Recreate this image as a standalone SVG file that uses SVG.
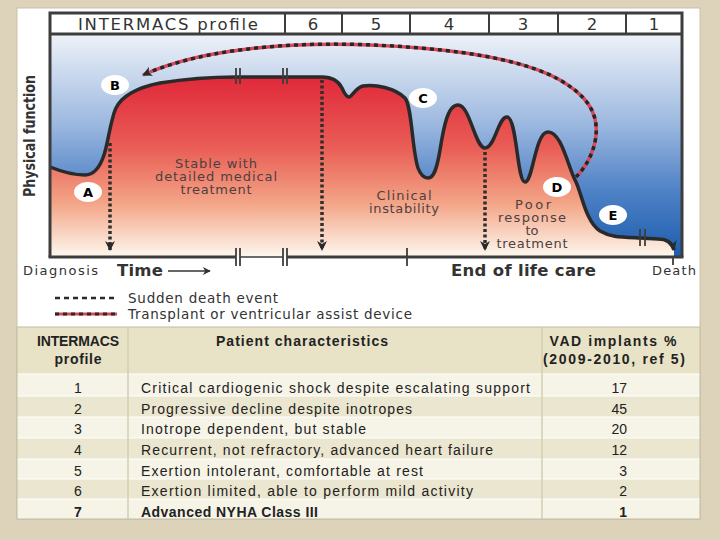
<svg xmlns="http://www.w3.org/2000/svg" width="720" height="540" viewBox="0 0 720 540">
<defs>
<linearGradient id="blueBg" x1="0" y1="34" x2="0" y2="257" gradientUnits="userSpaceOnUse">
<stop offset="0" stop-color="#eef2f8"/>
<stop offset="0.4" stop-color="#9db9e0"/>
<stop offset="0.7" stop-color="#4f82c6"/>
<stop offset="1" stop-color="#1c5dad"/>
</linearGradient>
<linearGradient id="redFill" x1="0" y1="76" x2="0" y2="257" gradientUnits="userSpaceOnUse">
<stop offset="0" stop-color="#e0283a"/>
<stop offset="0.4" stop-color="#e95e56"/>
<stop offset="0.7" stop-color="#f3a486"/>
<stop offset="1" stop-color="#fdf8ef"/>
</linearGradient>
<marker id="ah" viewBox="0 0 10 10" refX="9" refY="5" markerWidth="10" markerHeight="10" markerUnits="userSpaceOnUse" orient="auto">
<path d="M0,0 L10,5 L0,10 L3,5 Z" fill="#2a2a2a"/>
</marker>
<marker id="ahs" viewBox="0 0 10 10" refX="9" refY="5" markerWidth="8" markerHeight="8" markerUnits="userSpaceOnUse" orient="auto">
<path d="M0,0 L10,5 L0,10 L3,5 Z" fill="#333"/>
</marker>
<style>
.t{font-family:"DejaVu Sans","Liberation Sans",sans-serif;}
.lbl{font-family:"DejaVu Sans","Liberation Sans",sans-serif;font-size:13px;fill:#4d4040;text-anchor:middle;}
.ax{font-family:"DejaVu Sans","Liberation Sans",sans-serif;fill:#333;}
.circ{fill:#fff;}
.let{font-family:"DejaVu Sans","Liberation Sans",sans-serif;font-size:13px;font-weight:bold;fill:#000;text-anchor:middle;}
.dot{fill:none;stroke:#2e2e2e;stroke-width:3.5;stroke-dasharray:3 2.5;}
.red{fill:none;stroke:#d9475a;stroke-width:3.5;}
.blk{fill:none;stroke:#262626;stroke-width:3.5;stroke-dasharray:4 4;}
.frame{fill:none;stroke:#3d3d3d;stroke-width:3;}
.brk{stroke:#3d3d3d;stroke-width:1.8;}
.tb{font-family:"Liberation Sans",Arial,sans-serif;font-size:14px;fill:#222;}
.tbb{font-family:"Liberation Sans",Arial,sans-serif;font-size:14px;fill:#222;font-weight:bold;}
.hd{font-family:"DejaVu Sans","Liberation Sans",sans-serif;font-size:16.5px;fill:#333;text-anchor:middle;}
</style>
</defs>
<rect x="0" y="0" width="720" height="540" fill="#ddd3ba"/>
<rect x="17" y="8" width="683" height="511" fill="#ffffff" stroke="#c9c1a8" stroke-width="1"/>

<g id="chart">
<rect x="50" y="34" width="632" height="223" fill="url(#blueBg)"/>
<path id="area" d="M50,167 C60,171 72,175 85,175 C94,175 100,167 104,155 C108,143 111,118 116,108 C122,96 135,88 160,83 C185,79 210,77 236,77 L322,77 C332,77 338,80 342,88 C345,95 347,97 349,97 C352,97 355,88 363,86 C375,84 395,88 405,98 C412,106 412,150 418,168 C421,176 424,178 428,178 C434,178 437,168 440,150 C444,125 448,105 458,105 C470,105 475,148 485,148 C495,148 498,117 507,117 C517,117 517,182 525,182 C533,182 535,132 548,132 C562,132 568,168 576,182 C582,195 586,222 600,231 C610,237 620,237 640,238 L658,239 C666,239 672,242 674,250 L674,257 L50,257 Z" fill="url(#redFill)"/>
<path d="M50,167 C60,171 72,175 85,175 C94,175 100,167 104,155 C108,143 111,118 116,108 C122,96 135,88 160,83 C185,79 210,77 236,77 L322,77 C332,77 338,80 342,88 C345,95 347,97 349,97 C352,97 355,88 363,86 C375,84 395,88 405,98 C412,106 412,150 418,168 C421,176 424,178 428,178 C434,178 437,168 440,150 C444,125 448,105 458,105 C470,105 475,148 485,148 C495,148 498,117 507,117 C517,117 517,182 525,182 C533,182 535,132 548,132 C562,132 568,168 576,182 C582,195 586,222 600,231 C610,237 620,237 640,238 L658,239 C666,239 672,242 674,250" fill="none" stroke="#2a2a2a" stroke-width="3.5" marker-end="url(#ah)"/>
<line class="brk" x1="236" y1="68" x2="236" y2="84"/>
<line class="brk" x1="240" y1="68" x2="240" y2="84"/>
<line class="brk" x1="283" y1="68" x2="283" y2="84"/>
<line class="brk" x1="287" y1="68" x2="287" y2="84"/>
<line class="brk" x1="640" y1="229" x2="640" y2="246"/>
<line class="brk" x1="645" y1="229" x2="645" y2="246"/>
<rect x="50" y="13" width="632" height="21" fill="#ffffff"/>
<path class="frame" d="M50,257 L50,13 L682,13 L682,257"/>
<line class="frame" x1="50" y1="34" x2="682" y2="34"/>
<g stroke="#3d3d3d" stroke-width="2">
<line x1="285" y1="13" x2="285" y2="34"/>
<line x1="342" y1="13" x2="342" y2="34"/>
<line x1="410" y1="13" x2="410" y2="34"/>
<line x1="489" y1="13" x2="489" y2="34"/>
<line x1="558" y1="13" x2="558" y2="34"/>
<line x1="626" y1="13" x2="626" y2="34"/>
</g>
<text class="hd" x="168" y="30" textLength="180">INTERMACS profile</text>
<text class="hd" x="313" y="30">6</text>
<text class="hd" x="376" y="30">5</text>
<text class="hd" x="449" y="30">4</text>
<text class="hd" x="523" y="30">3</text>
<text class="hd" x="592" y="30">2</text>
<text class="hd" x="654" y="30">1</text>
<line stroke="#3d3d3d" stroke-width="3" x1="48.5" y1="257" x2="236" y2="257"/>
<line stroke="#3d3d3d" stroke-width="1.5" x1="240" y1="257" x2="283" y2="257"/>
<line stroke="#3d3d3d" stroke-width="3" x1="287" y1="257" x2="683.5" y2="257"/>
<line class="brk" x1="236" y1="248" x2="236" y2="266"/>
<line class="brk" x1="240" y1="248" x2="240" y2="266"/>
<line class="brk" x1="283" y1="248" x2="283" y2="266"/>
<line class="brk" x1="287" y1="248" x2="287" y2="266"/>
<line class="brk" x1="407" y1="248" x2="407" y2="266"/>
<line class="brk" x1="673" y1="257" x2="673" y2="265"/>
</g>

<g id="connectors">
<path class="dot" d="M110,143 L110,250" marker-end="url(#ah)"/>
<path class="dot" d="M322,80 L322,250" marker-end="url(#ah)"/>
<path class="dot" d="M485,152 L485,250" marker-end="url(#ah)"/>
<path class="red" d="M576,177 C588,165 598,145 596,125 C594,105 580,92 560,80 C530,63 480,53 420,48 C360,43 300,42 240,50 C200,55 165,65 143,75"/>
<path class="blk" d="M576,177 C588,165 598,145 596,125 C594,105 580,92 560,80 C530,63 480,53 420,48 C360,43 300,42 240,50 C200,55 165,65 143,75" marker-end="url(#ah)"/>
<path d="M168,271 L210,271" stroke="#333" stroke-width="1.5" marker-end="url(#ahs)"/>
</g>

<g id="node-A"><ellipse class="circ" cx="88" cy="192" rx="14" ry="10"/><text class="let" x="88" y="197">A</text></g>
<g id="node-B"><ellipse class="circ" cx="115" cy="85" rx="14" ry="10"/><text class="let" x="115" y="90">B</text></g>
<g id="node-C"><ellipse class="circ" cx="423" cy="98" rx="14" ry="10"/><text class="let" x="423" y="103">C</text></g>
<g id="node-D"><ellipse class="circ" cx="557" cy="187" rx="14" ry="10"/><text class="let" x="557" y="192">D</text></g>
<g id="node-E"><ellipse class="circ" cx="613" cy="215" rx="14" ry="10"/><text class="let" x="613" y="220">E</text></g>

<g id="labels">
<text class="lbl" x="216" y="168" textLength="82">Stable with</text>
<text class="lbl" x="216" y="181" textLength="122">detailed medical</text>
<text class="lbl" x="216" y="194" textLength="71">treatment</text>
<text class="lbl" x="404" y="200" textLength="55">Clinical</text>
<text class="lbl" x="404" y="213" textLength="70">instability</text>
<text class="lbl" x="533" y="209" textLength="36">Poor</text>
<text class="lbl" x="532" y="222" textLength="68">response</text>
<text class="lbl" x="532" y="235">to</text>
<text class="lbl" x="532" y="248" textLength="71">treatment</text>
<text class="t" x="35" y="136" transform="rotate(-90 35 136)" text-anchor="middle" font-size="16" font-weight="bold" fill="#333" textLength="122" lengthAdjust="spacingAndGlyphs">Physical function</text>
<text class="ax" x="23" y="275" font-size="13" textLength="75">Diagnosis</text>
<text class="ax" x="117" y="276" font-size="16.5" font-weight="bold" textLength="46">Time</text>
<text class="ax" x="451" y="276" font-size="16.5" font-weight="bold" textLength="145">End of life care</text>
<text class="ax" x="652" y="275" font-size="13" textLength="44">Death</text>
</g>

<g id="legend">
<line x1="55" y1="298" x2="117" y2="298" stroke="#2a2a2a" stroke-width="2.5" stroke-dasharray="5 4"/>
<line x1="55" y1="314" x2="117" y2="314" stroke="#d9475a" stroke-width="3"/>
<line x1="55" y1="314" x2="117" y2="314" stroke="#2a2a2a" stroke-width="3" stroke-dasharray="4 4"/>
<text class="ax" x="128" y="303" font-size="13.5" textLength="150">Sudden death event</text>
<text class="ax" x="128" y="319" font-size="13.5" textLength="284">Transplant or ventricular assist device</text>
</g>

<g id="table">
<rect x="17" y="327" width="683" height="47" fill="#e8e2c6"/>
<rect x="17" y="374" width="683" height="22" fill="#f6f3e7"/>
<rect x="17" y="396" width="683" height="21" fill="#ebe6cf"/>
<rect x="17" y="417" width="683" height="21" fill="#f6f3e7"/>
<rect x="17" y="438" width="683" height="21" fill="#ebe6cf"/>
<rect x="17" y="459" width="683" height="20" fill="#f6f3e7"/>
<rect x="17" y="479" width="683" height="20" fill="#ebe6cf"/>
<rect x="17" y="499" width="683" height="20" fill="#f6f3e7"/>
<g stroke="#ffffff" stroke-width="1">
<line x1="17" y1="374" x2="700" y2="374"/>
<line x1="17" y1="396" x2="700" y2="396"/>
<line x1="17" y1="417" x2="700" y2="417"/>
<line x1="17" y1="438" x2="700" y2="438"/>
<line x1="17" y1="459" x2="700" y2="459"/>
<line x1="17" y1="479" x2="700" y2="479"/>
<line x1="17" y1="499" x2="700" y2="499"/>
</g>
<g stroke="#d6ceb2" stroke-width="1.5">
<line x1="128" y1="327" x2="128" y2="519"/>
<line x1="542" y1="327" x2="542" y2="519"/>
</g>
<rect x="17" y="327" width="683" height="192" fill="none" stroke="#c4bca2" stroke-width="1"/>
<text class="tbb" x="78" y="346" text-anchor="middle" textLength="82">INTERMACS</text>
<text class="tbb" x="78" y="364" text-anchor="middle" textLength="47">profile</text>
<text class="tbb" x="216" y="346" textLength="172">Patient characteristics</text>
<text class="tbb" x="613" y="346" text-anchor="middle" textLength="127">VAD implants %</text>
<text class="tbb" x="614" y="364" text-anchor="middle" textLength="142">(2009-2010, ref 5)</text>
<g class="tb" text-anchor="middle">
<text x="78" y="393">1</text>
<text x="78" y="413.5">2</text>
<text x="78" y="434">3</text>
<text x="78" y="455">4</text>
<text x="78" y="475.5">5</text>
<text x="78" y="496">6</text>
<text x="78" y="516.5" font-weight="bold">7</text>
</g>
<text class="tb" x="141" y="393" textLength="389">Critical cardiogenic shock despite escalating support</text>
<text class="tb" x="141" y="413.5" textLength="271">Progressive decline despite inotropes</text>
<text class="tb" x="141" y="434" textLength="225">Inotrope dependent, but stable</text>
<text class="tb" x="141" y="455" textLength="352">Recurrent, not refractory, advanced heart failure</text>
<text class="tb" x="141" y="475.5" textLength="282">Exertion intolerant, comfortable at rest</text>
<text class="tb" x="141" y="496" textLength="332">Exertion limited, able to perform mild activity</text>
<text class="tbb" x="141" y="516.5" textLength="177">Advanced NYHA Class III</text>
<g class="tb" text-anchor="end">
<text x="627" y="393">17</text>
<text x="627" y="413.5">45</text>
<text x="627" y="434">20</text>
<text x="627" y="455">12</text>
<text x="627" y="475.5">3</text>
<text x="627" y="496">2</text>
<text x="627" y="516.5" font-weight="bold">1</text>
</g>
</g>
</svg>
